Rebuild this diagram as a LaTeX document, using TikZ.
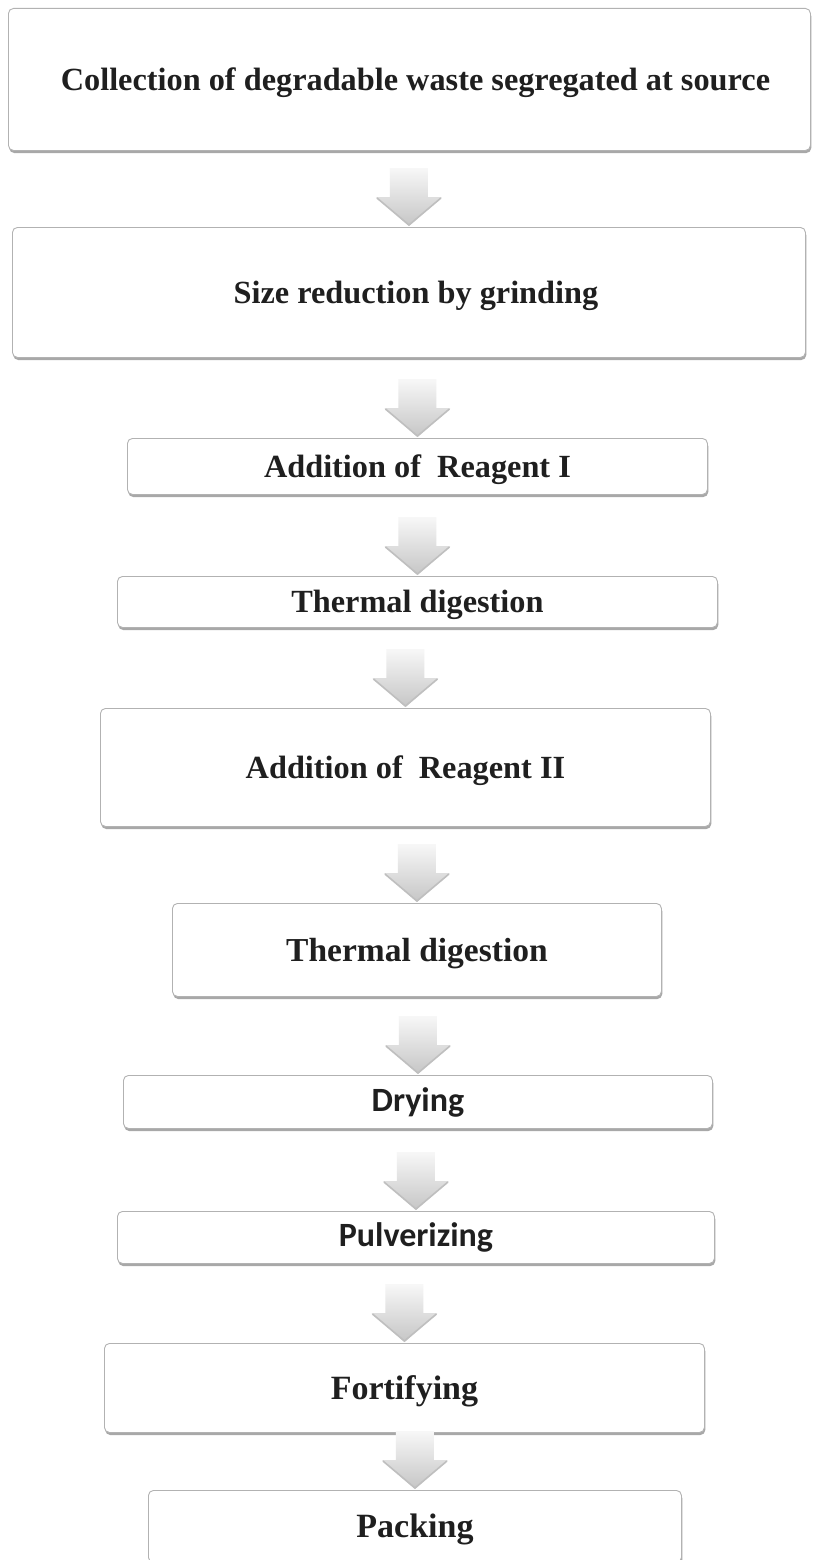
\documentclass[tikz,border=0pt]{standalone}
\usepackage{fontspec}
\setmainfont{Liberation Serif}
\newfontfamily\carl{Carlito}
\usetikzlibrary{shadows,calc}
\tikzset{
  stepbox/.style={draw=gray!60, line width=0.9pt, rounded corners=5pt, fill=white,
    anchor=north west, inner sep=0pt, text=black!88, text depth=1pt,
    font=\bfseries\fontsize{32.3}{36}\selectfont,
    drop shadow={shadow xshift=0.8pt, shadow yshift=-2.6pt, fill=gray!75, opacity=0.9}},
  sansbox/.style={stepbox, text depth=, font=\carl\bfseries\fontsize{34}{38}\selectfont},
  pics/darrow/.style={code={
    \shade[top color=gray!6, bottom color=gray!45]
      (-19,-58) -- (19,-58) -- (19,-29) -- (33,-29) -- (0,0) -- (-33,-29) -- (-19,-29) -- cycle;
    \draw[gray!50, line width=1.6pt, line join=round] (-32,-28) -- (0,-1) -- (32,-28);
  }}
}
\begin{document}
\begin{tikzpicture}[x=1pt,y=-1pt]
\useasboundingbox[fill=white] (0,0) rectangle (812,1560);
\node[stepbox, minimum width=802pt, minimum height=142pt] (b1) at (8,8)
  {\hspace*{12pt}Collection of degradable waste segregated at source};
\node[stepbox, minimum width=793pt, minimum height=130pt] (b2) at (12,227)
  {\hspace*{14pt}Size reduction by grinding};
\node[stepbox, minimum width=580pt, minimum height=56pt] (b3) at (127,438)
  {Addition of\ \ Reagent I};
\node[stepbox, minimum width=600pt, minimum height=51pt] (b4) at (117,576)
  {Thermal digestion};
\node[stepbox, minimum width=610pt, minimum height=118pt] (b5) at (100,708)
  {Addition of\ \ Reagent II};
\node[stepbox, minimum width=489pt, minimum height=93pt, font=\bfseries\fontsize{33.5}{37}\selectfont] (b6) at (172,903)
  {Thermal digestion};
\node[sansbox, minimum width=589pt, minimum height=53pt] (b7) at (123,1075)
  {Drying};
\node[sansbox, minimum width=597pt, minimum height=52pt] (b8) at (117,1211)
  {Pulverizing};
\node[stepbox, minimum width=600pt, minimum height=89pt, font=\bfseries\fontsize{34}{38}\selectfont] (b9) at (104,1343)
  {Fortifying};
\node[stepbox, minimum width=533pt, minimum height=72pt, font=\bfseries\fontsize{34}{38}\selectfont] (b10) at (148,1490)
  {Packing};
\foreach \n in {2,...,10} {
  \pic at ($(b\n.north)+(0,-1)$) {darrow};
}
\end{tikzpicture}
\end{document}
